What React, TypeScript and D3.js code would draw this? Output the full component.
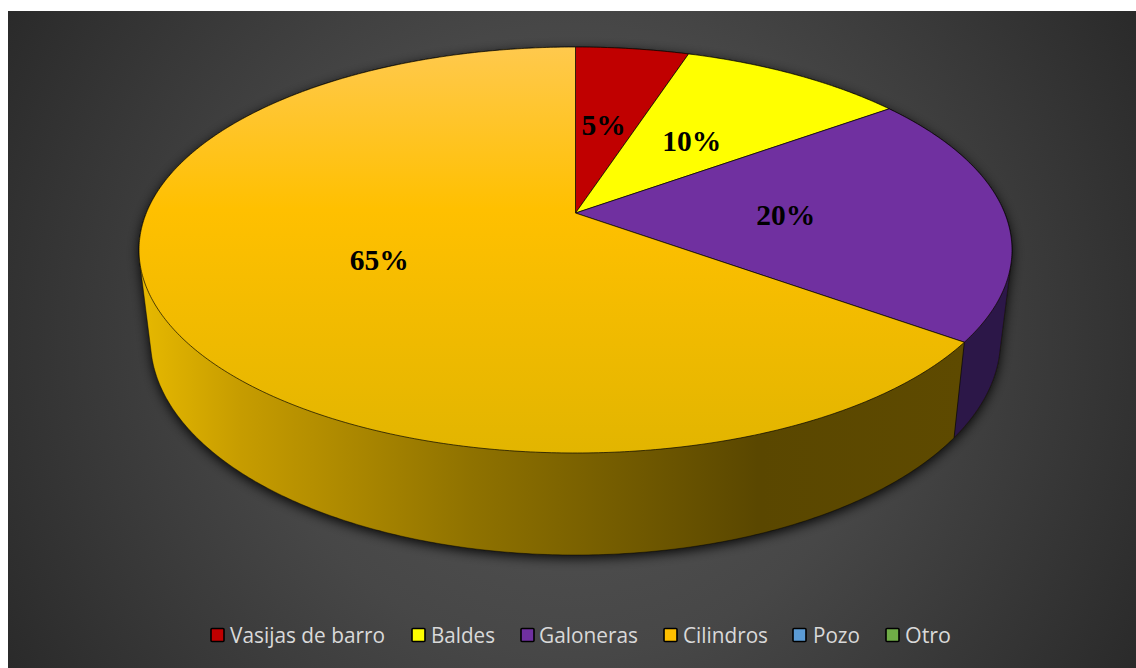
import React from "react";
import * as d3 from "d3";

// Rainwater storage types and their share of households (percent)
const categories = ["Vasijas de barro", "Baldes", "Galoneras", "Cilindros", "Pozo", "Otro"];
const shares = [5, 10, 20, 65, 0, 0];
const sliceColors = ["#c00000", "#ffff00", "#7030a0", "url(#cylTop)", "#5b9bd5", "#70ad47"];
const legendColors = ["#c00000", "#ffff00", "#7030a0", "#ffc000", "#5b9bd5", "#70ad47"];

const W = 1136;
const H = 668;
const TAU = Math.PI * 2;

// Top and bottom rims of the disc as seen in perspective
const topRim = { cx: 575.5, cy: 250, rx: 436.5, ry: 203 };
const bottomRim = { cx: 575.5, cy: 340, rx: 425, ry: 215 };
const tilt = 0.182; // how far the perspective moves the disc centre up

type Rim = typeof topRim;

// Projective map from a flat unit disc onto a rim ellipse
function project(rim: Rim, angle: number, radius = 1): [number, number] {
  const u = Math.sin(angle) * radius;
  const v = Math.cos(angle) * radius;
  const d = 1 + tilt * v;
  const px = (u * Math.sqrt(1 - tilt * tilt)) / d;
  const py = (v + tilt) / d;
  return [rim.cx + rim.rx * px, rim.cy - rim.ry * py];
}

const line = d3.line();

function arcPoints(rim: Rim, a0: number, a1: number): [number, number][] {
  const n = Math.max(2, Math.ceil(Math.abs(a1 - a0) / 0.01));
  return d3.range(n + 1).map((i) => project(rim, a0 + ((a1 - a0) * i) / n));
}

const pieGen = d3.pie<number>().sort(null).value((d) => d);
const arcs = pieGen(shares);
const visible = arcs.filter((a) => a.value > 0);

function slicePath(a0: number, a1: number) {
  const apex = project(topRim, 0, 0);
  return line([apex, ...arcPoints(topRim, a0, a1)]) + "Z";
}

// Outline of the whole solid: convex hull of both rims
const hull = d3.polygonHull([...arcPoints(topRim, 0, TAU), ...arcPoints(bottomRim, 0, TAU)])!;
const hullPath = line(hull) + "Z";

// The purple wall runs from the right silhouette to the slice's end angle
const wallSlice = visible[2];
const wallEdgeTop = project(topRim, wallSlice.endAngle);
const wallEdgeBottom = project(bottomRim, wallSlice.endAngle);
const wallArc = arcPoints(topRim, Math.PI / 3, wallSlice.endAngle);
const purpleWall =
  line([...wallArc, wallEdgeBottom, [W, wallEdgeBottom[1]], [W, wallArc[0][1]]]) + "Z";

const labelNudge: [number, number][] = [
  [-2, -1],
  [1, 0.5],
  [0, 2],
  [-1, 1.5],
];

const legendLayout = [
  { box: 211, text: 230, width: 155 },
  { box: 412, text: 431, width: 64 },
  { box: 521, text: 539, width: 99 },
  { box: 664, text: 683, width: 85 },
  { box: 793, text: 813, width: 47 },
  { box: 886, text: 905, width: 46 },
];

export default function App() {
  return (
    <svg
      width={W}
      height={H}
      viewBox={`0 0 ${W} ${H}`}
      style={{ position: "fixed", left: 0, top: 0, background: "#fff", display: "block" }}
    >
      <defs>
        <radialGradient id="panel" gradientUnits="userSpaceOnUse" cx={572} cy={340} r={700}>
          <stop offset="0" stopColor="#565656" />
          <stop offset="0.45" stopColor="#474747" />
          <stop offset="1" stopColor="#262626" />
        </radialGradient>
        <linearGradient id="cylTop" gradientUnits="userSpaceOnUse" x1={0} y1={47} x2={0} y2={453}>
          <stop offset="0" stopColor="#ffc94d" />
          <stop offset="0.4" stopColor="#ffc000" />
          <stop offset="1" stopColor="#e2b500" />
        </linearGradient>
        <linearGradient id="cylSide" gradientUnits="userSpaceOnUse" x1={143} y1={0} x2={963} y2={0}>
          <stop offset="0" stopColor="#e6b800" />
          <stop offset="0.12" stopColor="#c69c00" />
          <stop offset="0.4" stopColor="#8f7200" />
          <stop offset="0.75" stopColor="#5a4700" />
          <stop offset="1" stopColor="#5e4a00" />
        </linearGradient>
        <filter id="soft" x="-10%" y="-10%" width="120%" height="120%">
          <feGaussianBlur stdDeviation="6" />
        </filter>
        <clipPath id="solid">
          <path d={hullPath} />
        </clipPath>
      </defs>

      <rect x={8} y={11} width={W - 8} height={H - 11} fill="url(#panel)" />

      {/* soft shadow under the disc */}
      <path d={hullPath} fill="#000" opacity={0.9} filter="url(#soft)" transform="translate(0,3)" />

      {/* outer wall */}
      <path d={hullPath} fill="url(#cylSide)" />
      <path d={purpleWall} fill="#2c1748" clipPath="url(#solid)" />
      <path
        d={line([wallEdgeTop, wallEdgeBottom]) as string}
        stroke="#000"
        strokeOpacity={0.7}
        strokeWidth={0.9}
        fill="none"
      />
      <path d={hullPath} fill="none" stroke="#000" strokeOpacity={0.55} strokeWidth={0.8} />

      {/* top face */}
      {visible.map((a, i) => (
        <path
          key={i}
          d={slicePath(a.startAngle, a.endAngle)}
          fill={sliceColors[i]}
          stroke="#000"
          strokeOpacity={0.75}
          strokeWidth={0.9}
          strokeLinejoin="round"
        />
      ))}

      {/* percentage labels */}
      {visible.map((a, i) => {
        const [x, y] = project(topRim, (a.startAngle + a.endAngle) / 2, 0.49);
        return (
          <text
            key={i}
            x={x + labelNudge[i][0]}
            y={y + labelNudge[i][1]}
            dy="0.35em"
            textAnchor="middle"
            fontFamily="'Liberation Serif', serif"
            fontWeight={700}
            fontSize={29.5}
            fill="#000"
          >
            {a.value}%
          </text>
        );
      })}

      {/* legend */}
      {categories.map((c, i) => (
        <g key={c}>
          <rect
            x={legendLayout[i].box}
            y={628.5}
            width={13}
            height={13}
            fill={legendColors[i]}
            stroke="#000"
            strokeWidth={1.6}
            rx={1}
          />
          <text
            x={legendLayout[i].text}
            y={642.5}
            fontFamily="'Open Sans', sans-serif"
            fontSize={22}
            fill="#d9d9d9"
            textLength={legendLayout[i].width}
            lengthAdjust="spacingAndGlyphs"
          >
            {c}
          </text>
        </g>
      ))}
    </svg>
  );
}
